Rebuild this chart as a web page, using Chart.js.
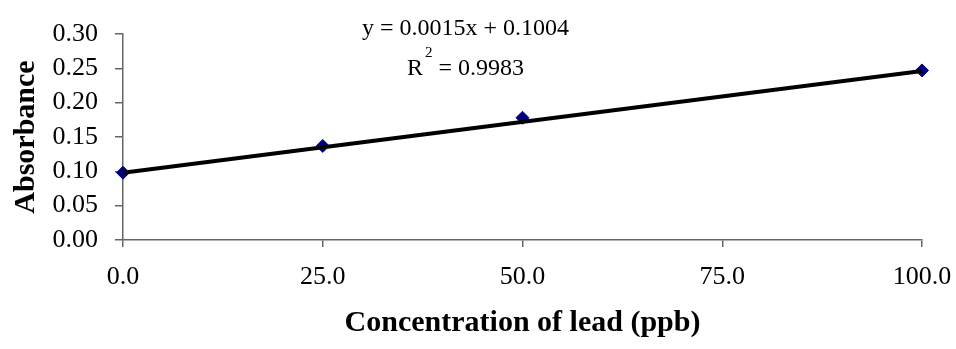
<!DOCTYPE html>
<html>
<head>
<meta charset="utf-8">
<title>Absorbance vs concentration of lead</title>
<script src="https://cdn.jsdelivr.net/npm/chart.js@4.4.1/dist/chart.umd.min.js"></script>
<style>
    html, body { margin: 0; padding: 0; background: #fff; }
    #chart { display: block; }
</style>
</head>
<body>
<canvas id="chart" width="956" height="349"></canvas>
<script>
// Calibration data.
const concentrations = [0, 25, 50, 100];
const absorbance = [0.098, 0.137, 0.178, 0.247];

// Linear trendline end points (as drawn in the original).
const trendX = [0, 100];
const trendY = [0.098, 0.246];

// Axis ranges and tick steps.
const xTicks = [0, 25, 50, 75, 100];
const yTicks = [0, 0.05, 0.10, 0.15, 0.20, 0.25, 0.30];

// Labels shown on the chart.
const xTitle = 'Concentration of lead (ppb)';
const yTitle = 'Absorbance';
const equationText = 'y = 0.0015x + 0.1004';
const r2Value = ' = 0.9983';

const serif = '"Liberation Serif", "Times New Roman", serif';
Chart.defaults.font.family = serif;
Chart.defaults.color = '#000';

// Draws the trendline equation and R² above the plot.
const equationPlugin = {
    id: 'equation',
    afterDraw(chart) {
        const ctx = chart.ctx;
        ctx.save();
        ctx.fillStyle = '#000';
        ctx.textBaseline = 'alphabetic';
        ctx.textAlign = 'left';
        ctx.font = `24px ${serif}`;
        ctx.fillText(equationText, 362, 35);

        let x = 407;
        ctx.fillText('R', x, 75);
        x += ctx.measureText('R').width + 2;
        ctx.font = `15px ${serif}`;
        ctx.fillText('2', x, 57);
        x += ctx.measureText('2').width;
        ctx.font = `24px ${serif}`;
        ctx.fillText(r2Value, x, 75);
        ctx.restore();
    }
};

const axisColor = '#666';

new Chart(document.getElementById('chart'), {
    type: 'scatter',
    data: {
        datasets: [
            {
                label: 'Trendline',
                data: trendX.map((x, i) => ({ x: x, y: trendY[i] })),
                showLine: true,
                borderColor: '#000',
                borderWidth: 4,
                pointRadius: 0,
                clip: false,
                order: 0
            },
            {
                label: 'Absorbance',
                data: concentrations.map((x, i) => ({ x: x, y: absorbance[i] })),
                pointStyle: 'rectRot',
                pointRadius: 6.5,
                backgroundColor: '#000080',
                borderColor: '#000080',
                borderWidth: 1,
                clip: false,
                order: 1
            }
        ]
    },
    options: {
        responsive: false,
        animation: false,
        layout: { padding: { left: 0, right: 34, top: 34, bottom: 0 } },
        plugins: {
            legend: { display: false },
            tooltip: { enabled: false }
        },
        scales: {
            x: {
                type: 'linear',
                min: xTicks[0],
                max: xTicks[xTicks.length - 1],
                afterFit: (scale) => {
                    scale.height = 109;
                    // the end labels may hang past the plot, like in the original
                    scale.paddingLeft = 0;
                    scale.paddingRight = 0;
                },
                afterBuildTicks: (scale) => { scale.ticks = xTicks.map(v => ({ value: v })); },
                ticks: {
                    padding: 15,
                    font: { size: 26 },
                    callback: (v) => Number(v).toFixed(1)
                },
                grid: { drawOnChartArea: false, drawTicks: true, tickLength: 7, color: axisColor, lineWidth: 1.5 },
                border: { color: axisColor, width: 1.5 },
                title: {
                    display: true,
                    text: xTitle,
                    font: { size: 30, weight: 'bold' },
                    padding: { top: 0, bottom: 8 }
                }
            },
            y: {
                min: yTicks[0],
                max: yTicks[yTicks.length - 1],
                afterFit: (scale) => {
                    scale.width = 123;
                    scale.paddingTop = 0;
                    scale.paddingBottom = 0;
                },
                afterBuildTicks: (scale) => { scale.ticks = yTicks.map(v => ({ value: v })); },
                ticks: {
                    padding: 17,
                    font: { size: 26 },
                    callback: (v) => Number(v).toFixed(2)
                },
                grid: { drawOnChartArea: false, drawTicks: true, tickLength: 8, color: axisColor, lineWidth: 1.5 },
                border: { color: axisColor, width: 1.5 },
                title: {
                    display: true,
                    text: yTitle,
                    font: { size: 30, weight: 'bold' },
                    padding: { top: 8, bottom: 0 }
                }
            }
        }
    },
    plugins: [equationPlugin]
});
</script>
</body>
</html>
